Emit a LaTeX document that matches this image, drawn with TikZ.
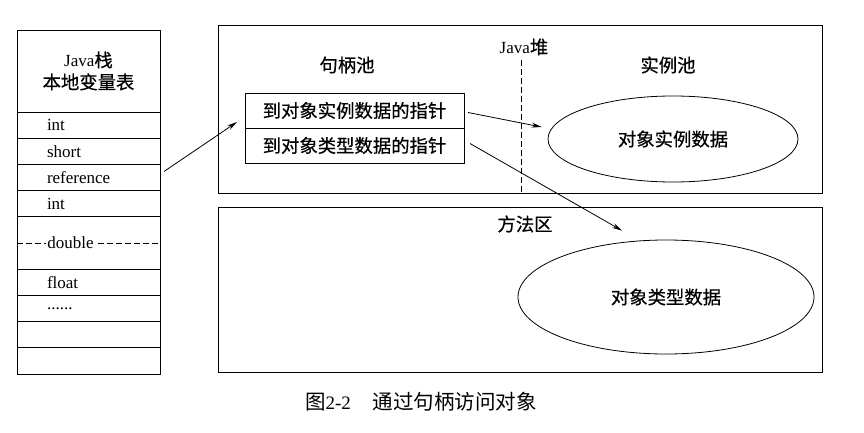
\documentclass[tikz,border=0pt]{standalone}
\usepackage{fontspec}
\setmainfont{Liberation Serif}
\newfontfamily\cjk[Scale=1.08, FakeBold=0.5]{Noto Sans CJK SC}
\newfontfamily\cjkcap[Scale=1.08]{Noto Sans CJK SC}
\usetikzlibrary{positioning, shapes.geometric, arrows.meta}
\newcommand{\zh}[1]{{\cjk #1}}
\tikzset{
  slot/.style = {draw, minimum width=143pt, minimum height=26.2pt, inner xsep=30pt, inner ysep=0pt, text width=83pt, align=left, outer sep=0pt},
  hbox/.style = {draw, minimum width=219pt, minimum height=35pt, inner sep=0pt, outer sep=0pt},
  area/.style = {draw, inner sep=0pt, minimum width=604pt},
  blob/.style = {draw, ellipse, inner sep=0pt},
  ptr/.style = {-{Stealth[length=10pt, width=5pt]}},
  split/.style = {dash pattern=on 6pt off 3pt}
}
\begin{document}
\begin{tikzpicture}[x=1pt, y=-1pt, line width=0.8pt, every node/.style={font=\fontsize{17}{22}\selectfont}]
\useasboundingbox (0,0) rectangle (864,433);
% Java stack
\node[draw, minimum width=143pt, minimum height=82pt, align=center, outer sep=0pt] (head) at (88.5,71) {Java\zh{栈}\\\zh{本地变量表}};
\node[slot, below=0pt of head] (s1) {int};
\node[slot, below=0pt of s1] (s2) {short};
\node[slot, below=0pt of s2] (s3) {reference};
\node[slot, below=0pt of s3] (s4) {int};
\node[slot, below=0pt of s4, minimum height=52.4pt] (s5) {};
\node[slot, below=0pt of s5] (s6) {float};
\node[slot, below=0pt of s6] (s7) {......};
\node[slot, below=0pt of s7] (s8) {};
\node[slot, below=0pt of s8] (s9) {};
\draw[split] (s5.west) -- (s5.east);
\node[fill=white, inner sep=1pt, right=29pt of s5.west] (dbl) {double};
% Java heap
\node[area, minimum height=168pt] (heap) at (520,109) {};
\node (heapname) at (524,47) {Java\zh{堆}};
\coordinate (divtop) at (521,60);
\draw[split] (divtop) -- (divtop |- heap.south);
\node (hpool) at (347,65) {\zh{句柄池}};
\node (ipool) at (668,65) {\zh{实例池}};
\node[hbox] (h1) at (354.5,110.5) {\zh{到对象实例数据的指针}};
\node[hbox, below=0pt of h1] (h2) {\zh{到对象类型数据的指针}};
\node[blob, minimum width=250pt, minimum height=86pt] (inst) at (673,139) {\zh{对象实例数据}};
% method area
\node[area, minimum height=165pt] (meth) at (520,289.5) {};
\node (methname) at (525,224) {\zh{方法区}};
\node[blob, minimum width=296pt, minimum height=114pt] (klass) at (666,297) {\zh{对象类型数据}};
% pointers
\draw[ptr] ([xshift=4pt, yshift=6pt]s3.east) -- ([xshift=-8pt, yshift=6pt]h1.south west);
\draw[ptr] ([xshift=4pt, yshift=-2pt]h1.east) -- ([xshift=-6pt, yshift=12pt]inst.west);
\draw[ptr] ([xshift=6pt, yshift=2pt]h2.east) -- ([xshift=-44pt, yshift=9pt]klass.north);
\node[font=\fontsize{19}{22}\selectfont] (cap) at (421,402) {{\cjkcap 图}2-2\hspace{22pt}{\cjkcap 通过句柄访问对象}};
\end{tikzpicture}
\end{document}
